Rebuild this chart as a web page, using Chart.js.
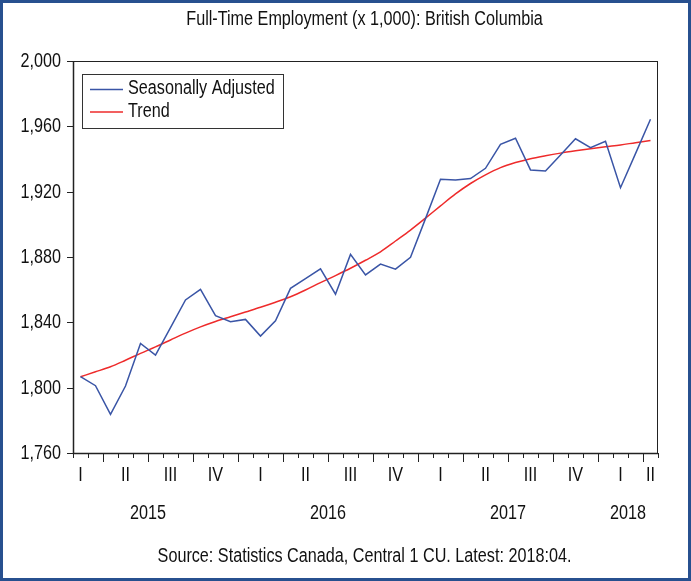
<!DOCTYPE html>
<html>
<head>
<meta charset="utf-8">
<script src="https://cdn.jsdelivr.net/npm/chart.js@4.4.1/dist/chart.umd.min.js"></script>
<style>
  html, body { margin: 0; padding: 0; background: #ffffff; }
  canvas { display: block; }
</style>
</head>
<body>
<canvas id="c" width="691" height="581"></canvas>
<script>
// ---------------- DATA ----------------
const titleText = "Full-Time Employment (x 1,000): British Columbia";
const sourceText = "Source: Statistics Canada, Central 1 CU. Latest: 2018:04.";
const seriesNames = ["Seasonally Adjusted", "Trend"];

const months = [
  "2015:02","2015:03","2015:04","2015:05","2015:06","2015:07","2015:08","2015:09","2015:10","2015:11","2015:12",
  "2016:01","2016:02","2016:03","2016:04","2016:05","2016:06","2016:07","2016:08","2016:09","2016:10","2016:11","2016:12",
  "2017:01","2017:02","2017:03","2017:04","2017:05","2017:06","2017:07","2017:08","2017:09","2017:10","2017:11","2017:12",
  "2018:01","2018:02","2018:03","2018:04"
];

const seasonallyAdjusted = [
  1806.7, 1801.2, 1783.7, 1801.0, 1827.1, 1820.0, 1836.8, 1853.7, 1860.2, 1844.1, 1840.4,
  1841.8, 1831.6, 1841.0, 1860.8, 1866.8, 1872.8, 1857.2, 1881.6, 1869.0, 1875.7, 1872.6, 1879.8,
  1903.5, 1927.6, 1927.1, 1928.0, 1934.3, 1949.0, 1952.7, 1933.3, 1932.6, 1942.5, 1952.4, 1946.9,
  1950.8, 1922.4, 1943.3, 1964.3
];

const trend = [
  1806.7, 1809.7, 1812.8, 1816.8, 1821.0, 1825.0, 1829.2, 1833.4, 1837.2, 1840.5, 1843.4,
  1846.3, 1849.2, 1852.3, 1855.7, 1859.8, 1864.3, 1868.6, 1873.1, 1878.0, 1883.2, 1889.8, 1896.5,
  1903.8, 1911.3, 1918.6, 1925.0, 1930.3, 1934.7, 1937.8, 1940.2, 1942.0, 1943.6, 1945.0, 1946.3,
  1947.5, 1948.6, 1950.0, 1951.3
];

const yTicks = [1760, 1800, 1840, 1880, 1920, 1960, 2000];
const quarterNames = ["I", "II", "III", "IV"];
const yMin = 1760, yMax = 2000;

// ---------------- STYLE ----------------
const BLUE = "#3a55a6";
const RED = "#ee2b2b";
const FRAME = "#27508f";

// pick a narrow font if installed, else scale regular font horizontally
const probe = document.createElement("canvas").getContext("2d");
probe.font = '20px "Liberation Sans Narrow", monospace';
const wNarrow = probe.measureText("Seasonally Adjusted 2015").width;
probe.font = '20px monospace';
const wMono = probe.measureText("Seasonally Adjusted 2015").width;
const hasNarrow = Math.abs(wNarrow - wMono) > 0.5;
const FONT_FAMILY = hasNarrow ? '"Liberation Sans Narrow"' : '"Liberation Sans", Arial, sans-serif';
const FONT_SIZE = 19.5;
const SX = hasNarrow ? 1.0 : 0.83;

function drawText(ctx, s, x, y, align) {
  ctx.save();
  ctx.translate(x, y);
  ctx.scale(SX, 1);
  ctx.font = FONT_SIZE + "px " + FONT_FAMILY;
  ctx.fillStyle = "#111111";
  ctx.textAlign = align || "center";
  ctx.textBaseline = "middle";
  ctx.fillText(s, 0, 0);
  ctx.restore();
}

function fmt(v) { return v.toLocaleString("en-US"); }

const decorPlugin = {
  id: "decor",
  afterDraw(chart) {
    const ctx = chart.ctx;
    const area = chart.chartArea;
    const xs = chart.scales.x;
    const ys = chart.scales.y;

    // plot border
    ctx.save();
    ctx.strokeStyle = "#222222";
    ctx.lineWidth = 1;
    ctx.strokeRect(Math.round(area.left) + 0.5, Math.round(area.top) + 0.5,
                   Math.round(area.right - area.left) - 1, Math.round(area.bottom - area.top));
    ctx.lineWidth = 1.5;
    ctx.beginPath();
    ctx.moveTo(area.left + 0.5, area.top);
    ctx.lineTo(area.left + 0.5, area.bottom + 0.5);
    ctx.lineTo(area.right, area.bottom + 0.5);
    ctx.stroke();

    // y ticks and labels
    ctx.lineWidth = 1;
    yTicks.forEach(v => {
      const py = Math.round(ys.getPixelForValue(v)) + 0.5;
      ctx.beginPath();
      ctx.moveTo(area.left - 6, py);
      ctx.lineTo(area.left, py);
      ctx.stroke();
      drawText(ctx, fmt(v), area.left - 12, py, "right");
    });

    // x ticks at month boundaries
    const step = xs.getPixelForValue(1) - xs.getPixelForValue(0);
    for (let k = 0; k <= months.length; k++) {
      const px = Math.round(xs.getPixelForValue(0) - step / 2 + k * step) + 0.5;
      let major = false;
      if (k < months.length) {
        const m = parseInt(months[k].split(":")[1], 10);
        major = (m - 1) % 3 === 0 && k > 0;
      }
      ctx.beginPath();
      ctx.moveTo(px, area.bottom);
      ctx.lineTo(px, area.bottom + (major ? 9 : 5));
      ctx.stroke();
    }
    ctx.restore();

    // quarter labels at the middle month of each quarter (clamped to data range)
    const quarters = [];
    months.forEach((lab, i) => {
      const [yy, mm] = lab.split(":").map(Number);
      const q = Math.floor((mm - 1) / 3);
      const key = yy + "-" + q;
      let e = quarters.find(o => o.key === key);
      if (!e) { e = { key, q, first: i, last: i, year: yy }; quarters.push(e); }
      e.last = i;
    });
    quarters.forEach(e => {
      const [yy] = [e.year];
      const midMonthIdx = months.indexOf(yy + ":" + String(e.q * 3 + 2).padStart(2, "0"));
      const idx = midMonthIdx >= 0 ? midMonthIdx : (e.first === 0 ? e.first : e.last);
      drawText(ctx, quarterNames[e.q], xs.getPixelForValue(idx), area.bottom + 23, "center");
    });

    // year labels
    const years = [];
    months.forEach((lab, i) => {
      const yy = Number(lab.split(":")[0]);
      const mm = Number(lab.split(":")[1]);
      let e = years.find(o => o.year === yy);
      if (!e) { e = { year: yy, janIdx: i - (mm - 1), last: i }; years.push(e); }
      e.last = i;
    });
    years.forEach(e => {
      const c = (e.janIdx + e.last) / 2;
      const px = xs.getPixelForValue(0) + c * step;
      drawText(ctx, String(e.year), px, area.bottom + 61, "center");
    });

    // title and source
    const cx = (area.left + area.right) / 2;
    drawText(ctx, titleText, cx - 1, 20, "center");
    drawText(ctx, sourceText, cx - 1, 557, "center");

    // legend
    ctx.save();
    ctx.strokeStyle = "#333333";
    ctx.lineWidth = 1;
    ctx.strokeRect(82.5, 74.5, 201, 54);
    const cols = [BLUE, RED];
    const rowsY = [89.5, 112];
    seriesNames.forEach((n, i) => {
      ctx.strokeStyle = cols[i];
      ctx.lineWidth = 1.5;
      ctx.beginPath();
      ctx.moveTo(90, rowsY[i]);
      ctx.lineTo(123, rowsY[i]);
      ctx.stroke();
      drawText(ctx, n, 128, rowsY[i] - 0.5, "left");
    });
    ctx.restore();

    // outer frame
    ctx.save();
    ctx.strokeStyle = FRAME;
    ctx.lineWidth = 3;
    ctx.strokeRect(1.5, 1.5, chart.width - 3, chart.height - 3);
    ctx.restore();
  }
};

new Chart(document.getElementById("c"), {
  type: "line",
  data: {
    labels: months,
    datasets: [
      {
        label: seriesNames[0],
        data: seasonallyAdjusted,
        borderColor: BLUE,
        borderWidth: 1.5,
        pointRadius: 0,
        tension: 0,
        fill: false
      },
      {
        label: seriesNames[1],
        data: trend,
        borderColor: RED,
        borderWidth: 1.5,
        pointRadius: 0,
        cubicInterpolationMode: "monotone",
        fill: false
      }
    ]
  },
  options: {
    responsive: false,
    animation: false,
    devicePixelRatio: 1,
    layout: { padding: { top: 61, right: 33, left: 0, bottom: 0 } },
    plugins: {
      legend: { display: false },
      title: { display: false },
      tooltip: { enabled: false }
    },
    scales: {
      x: {
        type: "category",
        offset: true,
        grid: { display: false },
        border: { display: false },
        ticks: { display: false },
        afterFit: s => { s.height = 128; }
      },
      y: {
        min: yMin,
        max: yMax,
        grid: { display: false },
        border: { display: false },
        ticks: { display: false, stepSize: 40 },
        afterFit: s => { s.width = 73; }
      }
    }
  },
  plugins: [decorPlugin]
});
</script>
</body>
</html>
